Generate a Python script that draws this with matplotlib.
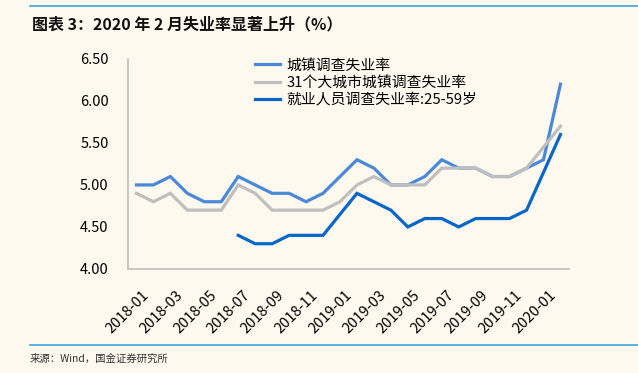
import numpy as np
import matplotlib
matplotlib.use("Agg")
import matplotlib.pyplot as plt
from matplotlib.lines import Line2D
from matplotlib.transforms import ScaledTranslation

plt.rcParams['font.family'] = ['Noto Sans CJK SC', 'DejaVu Sans']

months = ['2018-01', '2018-02', '2018-03', '2018-04', '2018-05', '2018-06',
          '2018-07', '2018-08', '2018-09', '2018-10', '2018-11', '2018-12',
          '2019-01', '2019-02', '2019-03', '2019-04', '2019-05', '2019-06',
          '2019-07', '2019-08', '2019-09', '2019-10', '2019-11', '2019-12',
          '2020-01', '2020-02']
nan = np.nan
urban = [5.0, 5.0, 5.1, 4.9, 4.8, 4.8, 5.1, 5.0, 4.9, 4.9, 4.8, 4.9,
         5.1, 5.3, 5.2, 5.0, 5.0, 5.1, 5.3, 5.2, 5.2, 5.1, 5.1, 5.2,
         5.3, 6.2]
city31 = [4.9, 4.8, 4.9, 4.7, 4.7, 4.7, 5.0, 4.9, 4.7, 4.7, 4.7, 4.7,
          4.8, 5.0, 5.1, 5.0, 5.0, 5.0, 5.2, 5.2, 5.2, 5.1, 5.1, 5.2,
          nan, 5.7]
age2559 = [nan, nan, nan, nan, nan, nan, 4.4, 4.3, 4.3, 4.4, 4.4, 4.4,
           nan, 4.9, 4.8, 4.7, 4.5, 4.6, 4.6, 4.5, 4.6, 4.6, 4.6, 4.7,
           nan, 5.6]
series_names = ['城镇调查失业率', '31个大城市城镇调查失业率', '就业人员调查失业率:25-59岁']
colors = ['#4A88DA', '#BFBFBF', '#0766C8']
tick_labels = months[::2]

bg = '#FDF9EF'
fig = plt.figure(figsize=(6.38, 3.73), dpi=100, facecolor=bg)
ax = fig.add_axes([0.2006, 0.279, 0.6912, 0.563], facecolor=bg)

x = np.arange(len(months))
handles = []
for vals, name, c in zip([urban, city31, age2559], series_names, colors):
    y = np.array(vals, dtype=float)
    m = ~np.isnan(y)
    ax.plot(x[m], y[m], color=c, lw=2.3, solid_joinstyle='miter')
    handles.append(Line2D([], [], color=c, lw=2.3, label=name))

ax.set_xlim(-0.5, 25.5)
ax.set_ylim(4.0, 6.5)
ax.set_yticks(np.arange(4.0, 6.51, 0.5))
ax.set_yticklabels([f'{v:.2f}' for v in np.arange(4.0, 6.51, 0.5)], fontsize=10.5)
ax.set_xticks(x[::2])
ax.set_xticklabels(tick_labels, rotation=45, ha='right', rotation_mode='anchor', fontsize=10.5)
ax.tick_params(axis='x', length=0, pad=14)
ax.tick_params(axis='y', length=0, pad=14)
off = ScaledTranslation(5/100, 0, fig.dpi_scale_trans)
for lab in ax.get_xticklabels():
    lab.set_transform(lab.get_transform() + off)
for s in ['top', 'right']:
    ax.spines[s].set_visible(False)
for s in ['left', 'bottom']:
    ax.spines[s].set_color('#BFBFBF')
    ax.spines[s].set_linewidth(1.2)

leg = ax.legend(handles=handles, loc='upper left', bbox_to_anchor=(0.275, 1.03),
                frameon=False, fontsize=10.7, handlelength=1.7, handletextpad=0.4,
                labelspacing=0.22, borderaxespad=0)

line_c = '#3BA3DC'
fig.add_artist(Line2D([30/638, 1], [1 - 6/373, 1 - 6/373], color=line_c, lw=1.2,
                      transform=fig.transFigure))
fig.add_artist(Line2D([30/638, 1], [1 - 345/373, 1 - 345/373], color=line_c, lw=1.2,
                      transform=fig.transFigure))
fig.text(32/638, 1 - 24/373, '图表 3：2020 年 2 月失业率显著上升（%）', fontsize=11.5,
         fontweight='bold', fontstyle='italic', va='center', ha='left', color='#111111')
fig.text(30/638, 1 - 359/373, '来源：Wind，国金证券研究所', fontsize=7.5,
         va='center', ha='left', color='#333333')

fig.savefig('out.png', dpi=100, facecolor=bg)
